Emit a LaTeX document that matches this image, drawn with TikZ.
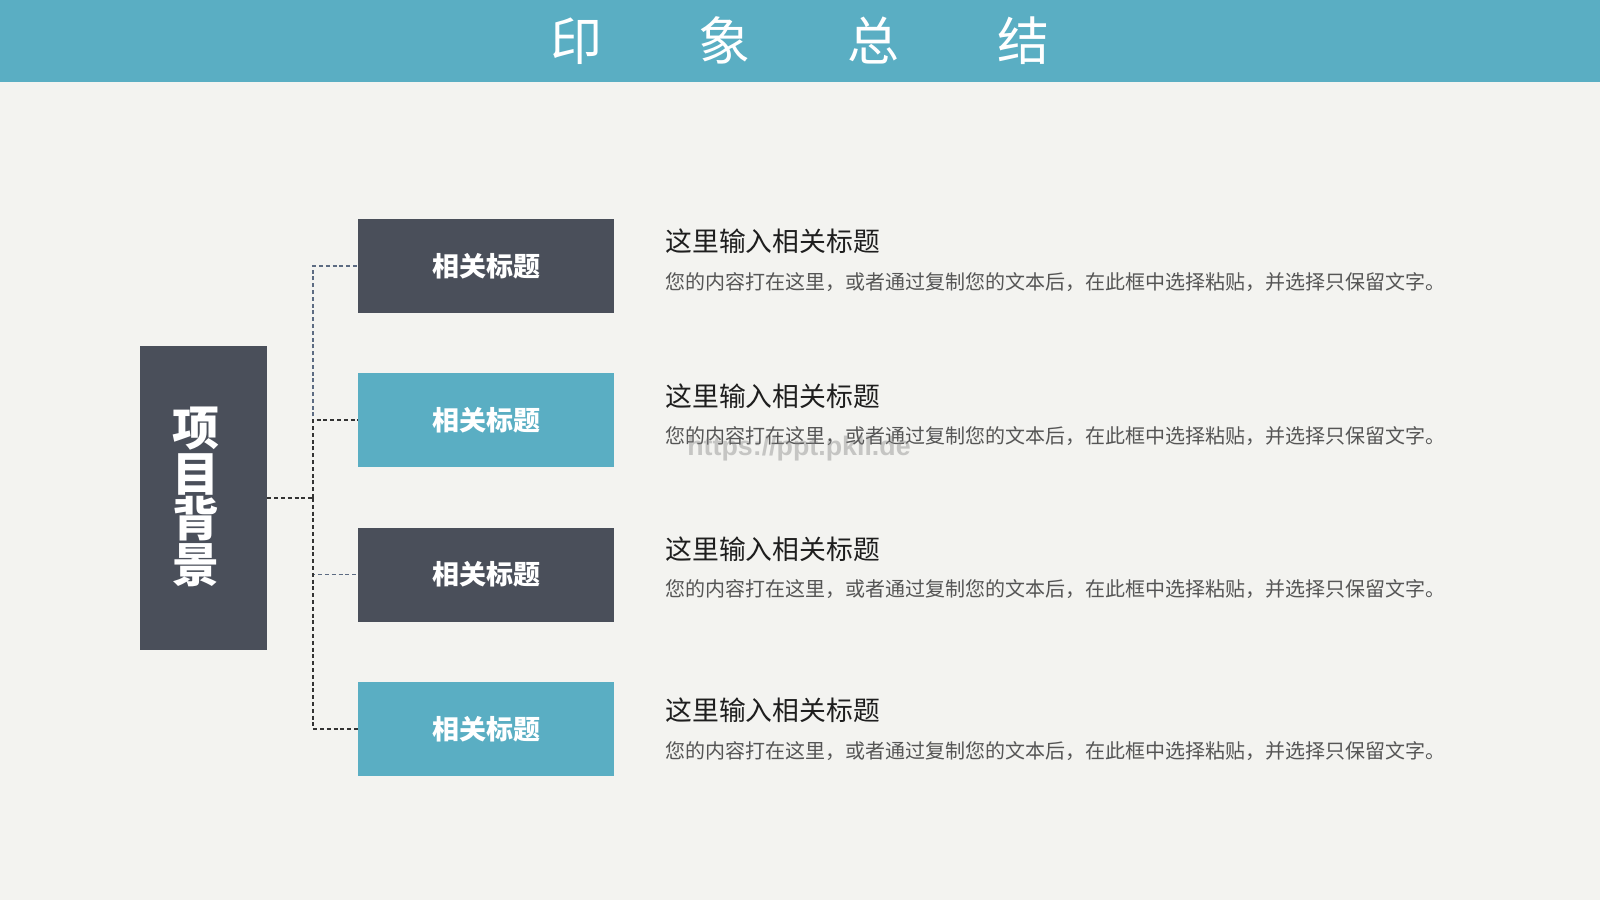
\documentclass[tikz,border=0pt]{standalone}
\usepackage{fontspec}
\newfontfamily\cjk{Noto Sans CJK SC}
\newfontfamily\wmfont{Liberation Sans}
\definecolor{bgc}{HTML}{F3F3F0}
\definecolor{teal}{HTML}{5AAEC3}
\definecolor{dark}{HTML}{4A4F5A}
\definecolor{titc}{HTML}{1E1E1E}
\definecolor{bodc}{HTML}{555555}
\definecolor{lnblue}{HTML}{5C6B82}
\definecolor{lndark}{HTML}{333333}
\tikzset{
  subbox/.style={minimum width=128pt, minimum height=47pt, inner sep=0pt, text=white,
    font=\cjk\bfseries\fontsize{13.5}{15}\selectfont},
  darkbox/.style={subbox, fill=dark},
  tealbox/.style={subbox, fill=teal},
  conn/.style={line width=0.6pt, dash pattern=on 2pt off 1.4pt},
  ttl/.style={anchor=west, inner sep=0pt, text=titc, font=\cjk\fontsize{13.4}{15}\selectfont},
  bod/.style={anchor=west, inner sep=0pt, text=bodc, font=\cjk\fontsize{10}{12}\selectfont},
}
\begin{document}
\begin{tikzpicture}[x=0.5pt,y=-0.5pt]
\fill[bgc] (0,0) rectangle (1600,900);
\useasboundingbox (0,0) rectangle (1600,900);
\fill[teal] (0,0) rectangle (1600,82);
\node[text=white, font=\cjk\fontsize{26}{28}\selectfont, inner sep=0pt] (head) at (799.5,41)
  {印\hspace{48.5pt}象\hspace{48.5pt}总\hspace{48.5pt}结};

\node[fill=dark, minimum width=63.5pt, minimum height=152pt, inner sep=0pt] (L) at (203.5,498) {};
\node[text=white, font=\cjk\bfseries\fontsize{23.5}{22.8}\selectfont, align=center, inner sep=0pt] (Lt) at (196,497)
  {项\\目\\背\\景};

\node[darkbox] (b1) at (486,266) {相关标题};
\node[tealbox] (b2) at (486,420) {相关标题};
\node[darkbox] (b3) at (486,574.5) {相关标题};
\node[tealbox] (b4) at (486,729) {相关标题};

\coordinate (j) at (313,498);
\draw[conn, lndark] (L.east) -- (j);
\draw[conn, lnblue] (j) |- (b1.west);
\draw[conn, lndark] (j) |- (b2.west);
\draw[conn, lnblue] (j) |- (b3.west);
\draw[conn, lndark] (j) |- (b4.west);

\node[ttl] (t1) at (665,241) {这里输入相关标题};
\node[bod] (d1) at (665,282) {您的内容打在这里，或者通过复制您的文本后，在此框中选择粘贴，并选择只保留文字。};
\node[ttl] (t2) at (665,396) {这里输入相关标题};
\node[bod] (d2) at (665,436) {您的内容打在这里，或者通过复制您的文本后，在此框中选择粘贴，并选择只保留文字。};
\node[ttl] (t3) at (665,549) {这里输入相关标题};
\node[bod] (d3) at (665,589) {您的内容打在这里，或者通过复制您的文本后，在此框中选择粘贴，并选择只保留文字。};
\node[ttl] (t4) at (665,710) {这里输入相关标题};
\node[bod] (d4) at (665,751) {您的内容打在这里，或者通过复制您的文本后，在此框中选择粘贴，并选择只保留文字。};

\node[text=gray, opacity=0.4, font=\wmfont\bfseries\fontsize{13.4}{15}\selectfont, inner sep=0pt] (wm) at (799,449) {https://ppt.pkll.de};
\end{tikzpicture}
\end{document}
